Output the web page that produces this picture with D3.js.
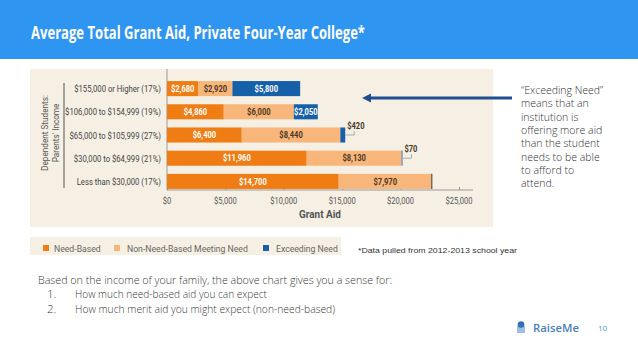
<!DOCTYPE html>
<html><head><meta charset="utf-8">
<script src="https://cdn.jsdelivr.net/npm/d3@7"></script>
<style>
html,body{margin:0;padding:0;background:#fff;}
svg{display:block;}
</style></head>
<body>
<svg id="c" width="638" height="359"></svg>
<script>
const categories = ["$155,000 or Higher (17%)", "$106,000 to $154,999 (19%)", "$65,000 to $105,999 (27%)", "$30,000 to $64,999 (21%)", "Less than $30,000 (17%)"];
const needBased = [2680, 4860, 6400, 11960, 14700];
const nonNeedBased = [2920, 6000, 8440, 8130, 7970];
const exceedingNeed = [5800, 2050, 420, 70, 0];
const seriesNames = ["Need-Based", "Non-Need-Based Meeting Need", "Exceeding Need"];
const xTicks = [0, 5000, 10000, 15000, 20000, 25000];

const colors = ["#f07c14", "#f8b67a", "#1660aa"];
const labelColors = ["#ffffff", "#4a3826", "#ffffff"];
const narrow = "Roboto, 'Liberation Sans', sans-serif";
const sans = "'Open Sans', 'Noto Sans', sans-serif";

const svg = d3.select("#c");

// measure natural width of a string in a given font
function measure(str, size, weight) {
  const t = svg.append("text").attr("font-family",narrow).attr("font-size",size).attr("font-weight",weight||400).text(str);
  const w = t.node().getComputedTextLength();
  t.remove();
  return w;
}
// draw a horizontally condensed text via a scale transform
function ctext(parent, str, px, py, sx, size, weight, fill, anchor) {
  return parent.append("text")
    .attr("transform", `translate(${px},${py}) scale(${sx},1)`)
    .attr("text-anchor", anchor || "start")
    .attr("font-family", narrow).attr("font-size", size).attr("font-weight", weight||400)
    .attr("fill", fill).text(str);
}

// title bar
svg.append("rect").attr("x",0).attr("y",0).attr("width",638).attr("height",59).attr("fill","#2e95f1");
svg.append("text").attr("x",31).attr("y",39).attr("fill","#fff")
  .attr("font-family",sans).attr("font-weight",700).attr("font-size",17)
  .attr("textLength",334).attr("lengthAdjust","spacingAndGlyphs")
  .text("Average Total Grant Aid, Private Four-Year College*");

// chart panel
svg.append("rect").attr("x",30).attr("y",69).attr("width",463).attr("height",158).attr("fill","#f6f0e4");

const x = d3.scaleLinear().domain([0,25000]).range([167,459]);
const y = d3.scaleBand().domain(categories).range([77,193]).paddingInner(0.35).paddingOuter(0.175);

const rows = categories.map((c,i)=>({cat:c, s0:needBased[i], s1:nonNeedBased[i], s2:exceedingNeed[i]}));
const stack = d3.stack().keys(["s0","s1","s2"])(rows);
const fmt = d=>"$"+d3.format(",")(d);

// y axis line
svg.append("line").attr("x1",x(0)).attr("x2",x(0)).attr("y1",69).attr("y2",190).attr("stroke","#9a9a9a").attr("stroke-width",1);

// x axis (ticks and line from the axis generator, labels condensed)
const xAxis = d3.axisBottom(x).tickValues(xTicks).tickSize(-3).tickFormat(()=>"");
const gx = svg.append("g").attr("transform","translate(0,190)").call(xAxis);
gx.select(".domain").attr("stroke","#9a9a9a").attr("d",`M${x(0)},0H473`);
gx.selectAll(".tick line").attr("stroke","#9a9a9a");
const fTick = 27 / measure(fmt(25000), 9.5);
const tickG = svg.append("g");
xTicks.forEach(t=>ctext(tickG, fmt(t), x(t), 204, fTick, 9.5, 400, "#555", "middle"));
ctext(svg, "Grant Aid", 320, 218, 42/measure("Grant Aid", 11, 700), 11, 700, "#555", "middle");

// bars
stack.forEach((layer,k)=>{
  svg.append("g").selectAll("rect").data(layer).join("rect")
    .attr("x",d=>x(d[0])).attr("y",d=>y(d.data.cat))
    .attr("width",d=>x(d[1])-x(d[0])).attr("height",y.bandwidth())
    .attr("fill",colors[k]);
});

// value labels
const fVal = 23.5 / measure("$2,680", 8.5, 700);
const valueLabels = svg.append("g");
stack.forEach((layer,k)=>{
  layer.forEach(d=>{
    const v = d[1]-d[0];
    const w = x(d[1])-x(d[0]);
    const cy = y(d.data.cat)+y.bandwidth()/2;
    if (v===0) {
      svg.append("line").attr("x1",x(d[1])).attr("x2",x(d[1]))
        .attr("y1",y(d.data.cat)).attr("y2",y(d.data.cat)+y.bandwidth()).attr("stroke","#555").attr("stroke-width",1.2);
    } else if (w > 20) {
      ctext(valueLabels, fmt(v), (x(d[0])+x(d[1]))/2, cy+3.2, fVal, 8.5, 700, labelColors[k], "middle");
    } else {
      const x1 = x(d[1]);
      svg.append("path").attr("d",`M${x1},${cy}H${x1+9}V${cy-4}`)
        .attr("fill","none").attr("stroke","#aaa").attr("stroke-width",1);
      ctext(valueLabels, fmt(v), x1+2, cy-6.5, fVal, 8.5, 700, "#4a3826", "start");
    }
  });
});

// category labels
const fCat = 87 / measure(categories[0], 9.5);
const catG = svg.append("g");
categories.forEach(c=>ctext(catG, c, 161, y(c)+y.bandwidth()/2+3.5, fCat, 9.5, 400, "#444", "end"));

// y title (rotated)
const fY = 76 / measure("Dependent Students:", 9.5);
svg.append("text").attr("transform",`translate(48,133) rotate(-90) scale(${fY},1)`).attr("text-anchor","middle")
  .attr("font-family",narrow).attr("font-size",9.5).attr("fill","#555").text("Dependent Students:");
svg.append("text").attr("transform",`translate(59,133) rotate(-90) scale(${fY},1)`).attr("text-anchor","middle")
  .attr("font-family",narrow).attr("font-size",9.5).attr("fill","#555").text("Parents' Income");
svg.append("line").attr("x1",64).attr("x2",64).attr("y1",83).attr("y2",188).attr("stroke","#555").attr("stroke-width",1);

// arrow
svg.append("line").attr("x1",370).attr("x2",512).attr("y1",98).attr("y2",98).attr("stroke","#1f4f8f").attr("stroke-width",3);
svg.append("path").attr("d","M362,98L371,93.5L371,102.5Z").attr("fill","#1f4f8f");

// side note
const note = ["\u201cExceeding Need\u201d","means that an","institution is","offering more aid","than the student","needs to be able","to afford to","attend."];
svg.append("g").selectAll("text").data(note).join("text")
  .attr("x",521).attr("y",(d,i)=>94+i*13.3)
  .attr("font-family",sans).attr("font-weight",300).attr("font-size",10.5).attr("fill","#333").text(d=>d);

// legend panel
svg.append("rect").attr("x",30).attr("y",237).attr("width",311).attr("height",18).attr("fill","#f6f0e4");
const legX = [43, 114, 263];
const legTX = [54, 127, 276];
const fLeg = 121 / measure(seriesNames[1], 9.5);
const legG = svg.append("g");
seriesNames.forEach((n,i)=>{
  legG.append("rect").attr("x",legX[i]).attr("y",245).attr("width",6).attr("height",6).attr("fill",colors[i]);
  ctext(legG, n, legTX[i], 251.5, fLeg, 9.5, 400, "#666", "start");
});
svg.append("text").attr("x",358).attr("y",253).attr("font-family","'Liberation Sans', Arial, sans-serif")
  .attr("font-size",8).attr("fill","#333").attr("textLength",159).attr("lengthAdjust","spacingAndGlyphs")
  .text("*Data pulled from 2012-2013 school year");

// bottom text
svg.append("text").attr("x",38).attr("y",284).attr("font-family",sans).attr("font-weight",300)
  .attr("font-size",11.5).attr("fill","#3a3a3a").attr("textLength",354).attr("lengthAdjust","spacingAndGlyphs")
  .text("Based on the income of your family, the above chart gives you a sense for:");
const items = ["How much need-based aid you can expect","How much merit aid you might expect (non-need-based)"];
const itemW = [192, 260];
items.forEach((t,i)=>{
  svg.append("text").attr("x",47).attr("y",298+i*14.5).attr("font-family",sans).attr("font-weight",300)
    .attr("font-size",11.5).attr("fill","#3a3a3a").text((i+1)+".");
  svg.append("text").attr("x",75).attr("y",298+i*14.5).attr("font-family",sans).attr("font-weight",300)
    .attr("font-size",11.5).attr("fill","#3a3a3a").attr("textLength",itemW[i]).attr("lengthAdjust","spacingAndGlyphs").text(t);
});

// logo
svg.append("rect").attr("x",517).attr("y",326).attr("width",8).attr("height",7).attr("fill","#9dbfe4");
svg.append("circle").attr("cx",521).attr("cy",324.5).attr("r",3.3).attr("fill","#2f6fbf");
svg.append("text").attr("x",533).attr("y",332).attr("font-family",sans).attr("font-weight",600)
  .attr("font-size",11).attr("fill","#4a7fc0").attr("textLength",46).attr("lengthAdjust","spacingAndGlyphs").text("RaiseMe");
svg.append("text").attr("x",598).attr("y",331).attr("font-family",sans)
  .attr("font-size",8).attr("fill","#4a90d9").text("10");
</script>
</body></html>
